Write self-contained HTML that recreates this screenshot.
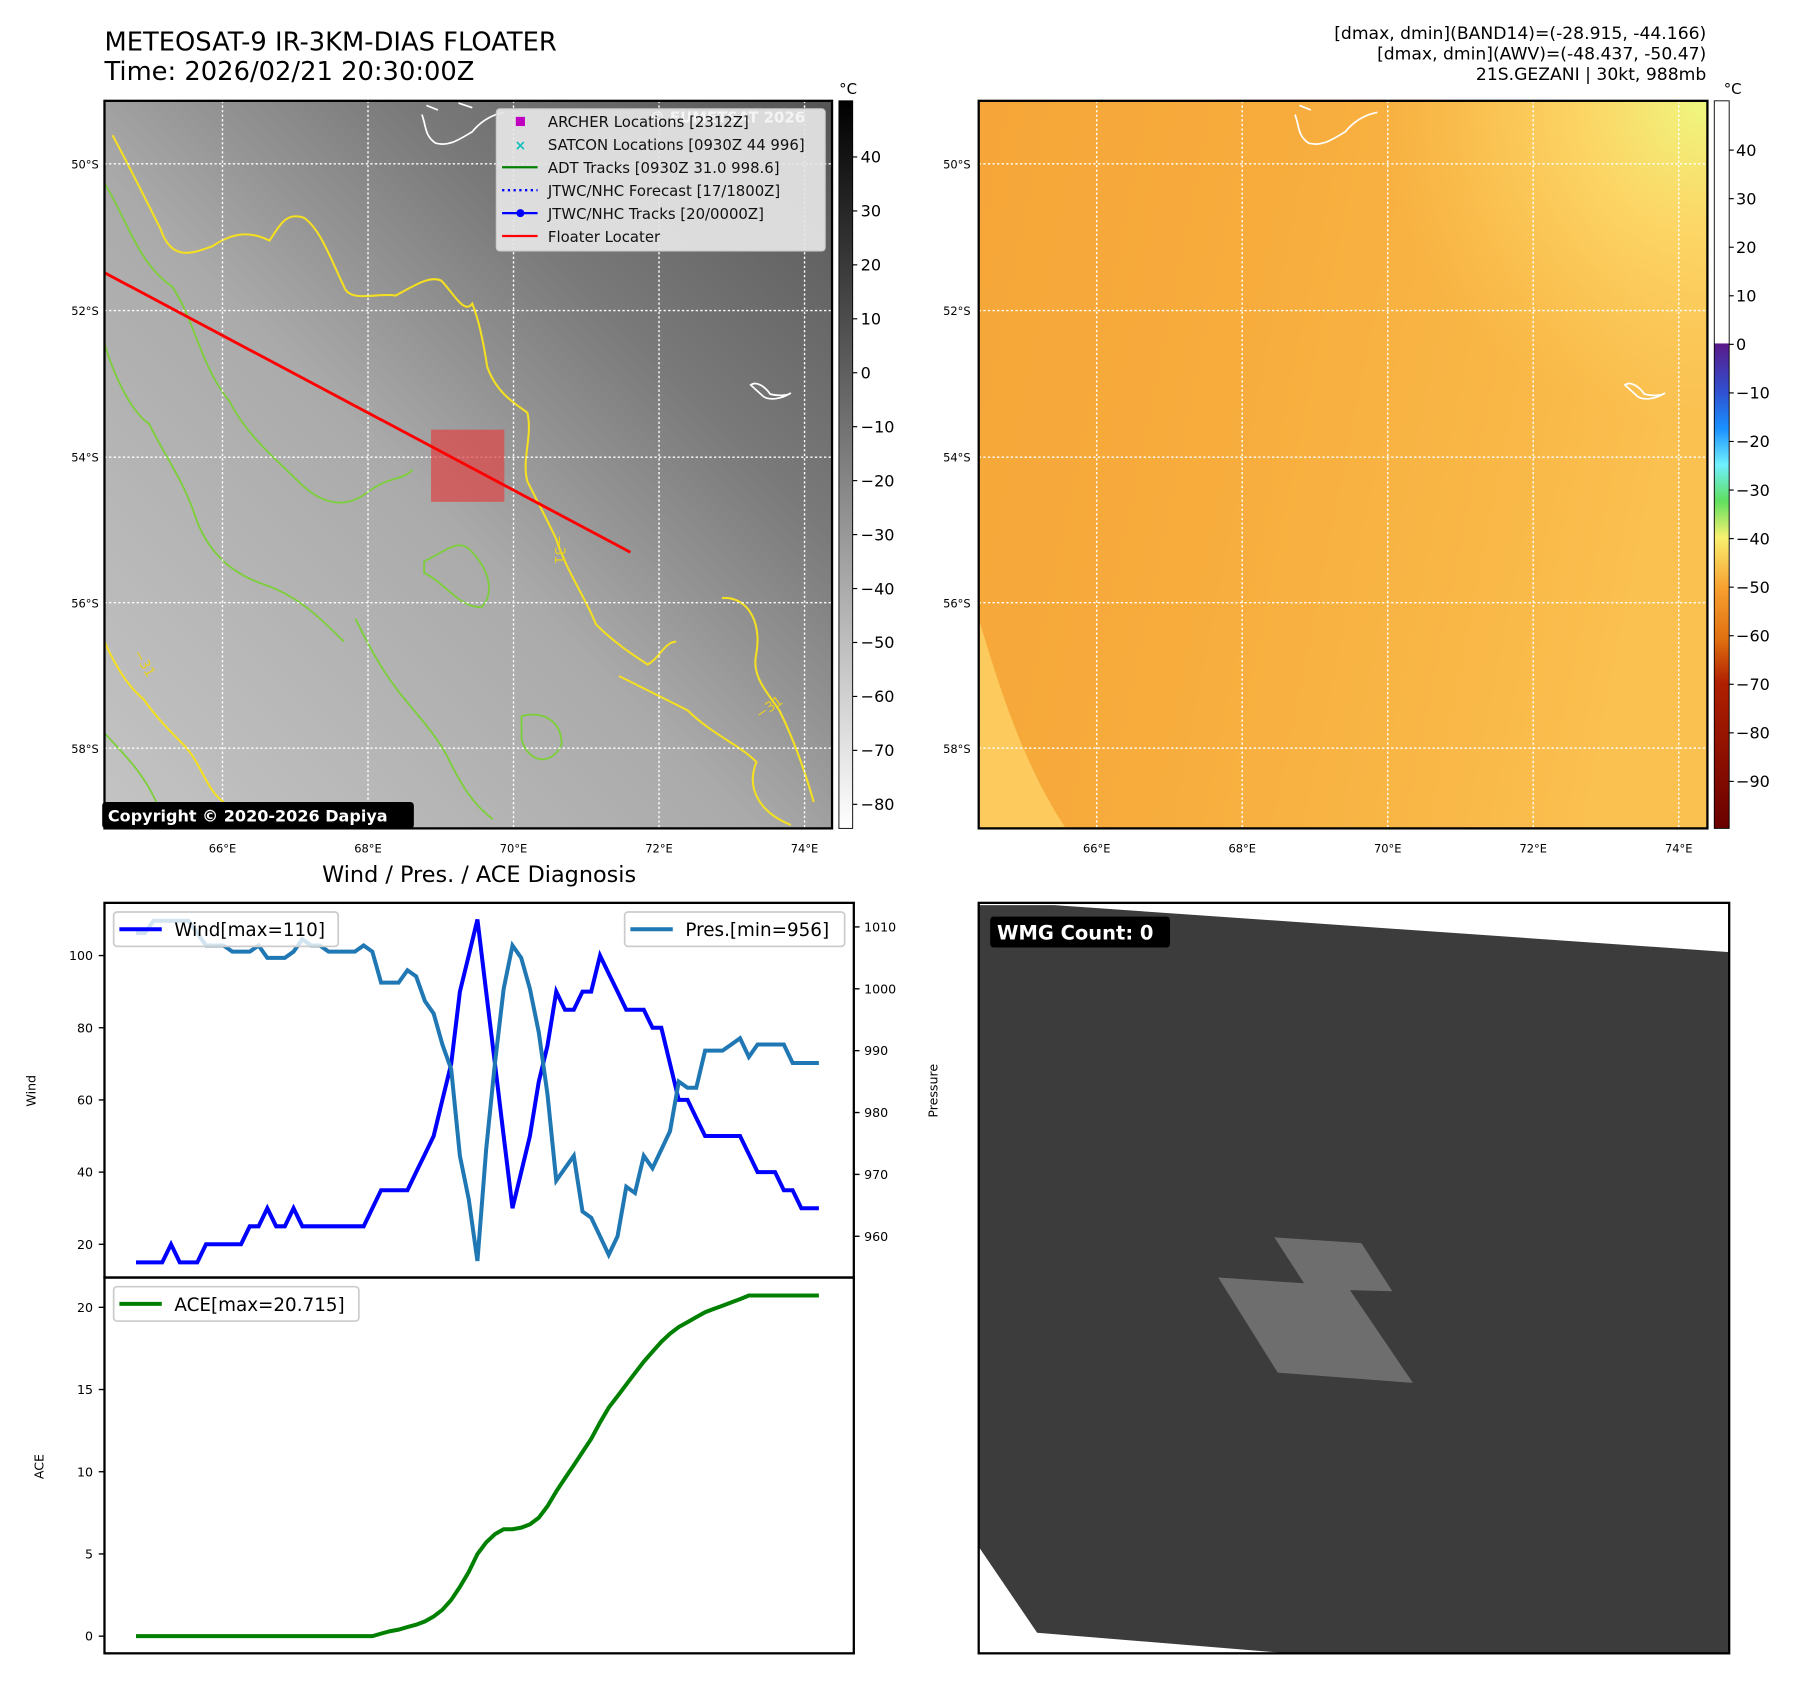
<!DOCTYPE html>
<html><head><meta charset="utf-8"><style>
html,body{margin:0;padding:0;background:#fff;}
svg{display:block;font-family:"DejaVu Sans","Liberation Sans",sans-serif;}
</style></head><body>
<svg id="fig" width="1797" height="1690" viewBox="0 0 1568 1475" xmlns="http://www.w3.org/2000/svg">
<defs>
<linearGradient id="irbg" x1="0" y1="1" x2="1" y2="0">
<stop offset="0" stop-color="#c4c4c4"/><stop offset="0.45" stop-color="#aaaaaa"/><stop offset="0.7" stop-color="#7a7a7a"/><stop offset="1" stop-color="#555555"/>
</linearGradient>
<linearGradient id="awvbg" x1="0" y1="0" x2="1" y2="0.2">
<stop offset="0" stop-color="#f6a638"/><stop offset="0.4" stop-color="#f7ac3c"/><stop offset="0.8" stop-color="#f9b847"/><stop offset="1" stop-color="#fac050"/>
</linearGradient>
<radialGradient id="awvtr" cx="1" cy="0" r="0.45">
<stop offset="0" stop-color="#eef880" stop-opacity="1"/><stop offset="0.4" stop-color="#fde070" stop-opacity="0.7"/><stop offset="1" stop-color="#fcd060" stop-opacity="0"/>
</radialGradient>
<linearGradient id="graycb" x1="0" y1="0" x2="0" y2="1">
<stop offset="0" stop-color="#000"/><stop offset="1" stop-color="#fff"/>
</linearGradient>
<linearGradient id="colcb" x1="0" y1="0" x2="0" y2="1">
<stop offset="0" stop-color="#fff"/><stop offset="0.333" stop-color="#fff"/>
<stop offset="0.334" stop-color="#5a1a8a"/><stop offset="0.40" stop-color="#3050d0"/><stop offset="0.45" stop-color="#1a90ff"/>
<stop offset="0.50" stop-color="#70f0ff"/><stop offset="0.55" stop-color="#60e060"/><stop offset="0.60" stop-color="#f8f070"/>
<stop offset="0.67" stop-color="#f8a030"/><stop offset="0.74" stop-color="#e07010"/><stop offset="0.80" stop-color="#b02000"/><stop offset="1" stop-color="#6a0000"/>
</linearGradient>
</defs>

<text x="91" y="44" font-size="22.5">METEOSAT-9 IR-3KM-DIAS FLOATER</text>
<text x="91" y="70" font-size="22.5">Time: 2026/02/21 20:30:00Z</text>
<text x="1489" y="34" font-size="15" text-anchor="end">[dmax, dmin](BAND14)=(-28.915, -44.166)</text>
<text x="1489" y="52" font-size="15" text-anchor="end">[dmax, dmin](AWV)=(-48.437, -50.47)</text>
<text x="1489" y="70" font-size="15" text-anchor="end">21S.GEZANI | 30kt, 988mb</text>

<g>
<rect x="91" y="88" width="635" height="635" fill="url(#irbg)"/>
<g fill="none" stroke="#f4e020" stroke-width="1.8">
<path d="M98 118 C110 140 125 170 140 200 C150 230 170 220 185 215 C200 205 215 200 235 210 C245 195 250 185 265 190 C280 200 290 230 300 250 C305 265 330 255 345 258 C360 250 375 240 385 245 C395 255 405 275 412 265 C418 280 422 300 425 320 C432 340 445 350 460 360 C465 380 455 400 460 420 C470 440 478 455 485 470 C495 500 510 520 520 545 C535 560 550 570 565 580 C575 575 580 560 590 560"/>
<path d="M91 560 C100 580 112 600 125 610 C135 625 150 640 160 650 C175 665 180 690 195 700"/>
<path d="M630 522 C650 520 665 540 660 570 C655 590 670 605 680 620 C690 640 700 665 710 700"/>
<path d="M540 590 C560 600 580 610 600 620 C620 640 645 650 660 665 C650 690 665 710 690 720"/>
</g>
<g fill="none" stroke="#7ccf3a" stroke-width="1.6">
<path d="M91 160 C110 190 120 230 150 250 C170 280 175 320 200 350 C215 380 240 400 260 420 C280 440 300 445 320 430 C340 415 350 420 360 410"/>
<path d="M91 300 C100 330 115 360 130 370 C145 400 160 420 170 450 C180 480 200 500 230 510 C260 520 280 540 300 560"/>
<path d="M370 490 C390 480 400 470 410 480 C430 500 430 520 420 530 C400 530 390 510 370 500 Z"/>
<path d="M310 540 C320 560 330 580 345 600 C360 620 380 640 390 660 C400 680 410 700 430 715"/>
<path d="M455 625 C475 620 490 630 490 650 C480 670 460 665 455 645 Z"/>
<path d="M91 640 C110 660 130 680 140 710"/>
</g>
<g stroke="#fff" stroke-width="1.2" stroke-dasharray="2,2">
<line x1="194" y1="88" x2="194" y2="723"/><line x1="321" y1="88" x2="321" y2="723"/><line x1="448" y1="88" x2="448" y2="723"/><line x1="575" y1="88" x2="575" y2="723"/><line x1="702" y1="88" x2="702" y2="723"/>
<line x1="91" y1="143" x2="726" y2="143"/><line x1="91" y1="271" x2="726" y2="271"/><line x1="91" y1="399" x2="726" y2="399"/><line x1="91" y1="526" x2="726" y2="526"/><line x1="91" y1="653" x2="726" y2="653"/>
</g>
<path d="M368 100 C372 110 370 118 380 125 C392 128 400 122 412 115 C420 105 430 100 440 98 M372 92 L382 96 M400 90 L412 94" fill="none" stroke="#fff" stroke-width="1.5"/>
<path d="M655 336 C660 332 668 338 672 344 C680 346 688 345 690 343 C682 348 672 350 666 346 Z" fill="none" stroke="#fff" stroke-width="1.5"/>
<text x="484" y="467" font-size="12" fill="#e8d020" transform="rotate(90 484 467)">−31</text>
<text x="663" y="628" font-size="12" fill="#e8d020" transform="rotate(-35 663 628)">−31</text>
<text x="116" y="570" font-size="12" fill="#e8d020" transform="rotate(60 116 570)">−31</text>
<rect x="376" y="375" width="64" height="63" fill="#dc4646" fill-opacity="0.72"/>
<line x1="91" y1="238" x2="550" y2="482" stroke="#f00" stroke-width="2.5"/>
<g>
<rect x="433" y="95" width="287" height="124" rx="3" fill="#e6e6e6" fill-opacity="0.92" stroke="#ccc"/>
<text x="567" y="107" font-size="13" fill="#fff" fill-opacity="0.7" font-weight="bold">© EUMETSAT 2026</text>
<rect x="450" y="102" width="8" height="8" fill="#c000c0"/>
<text x="454" y="131" font-size="12" fill="#10c0c0" text-anchor="middle" font-weight="bold">×</text>
<line x1="438" y1="146" x2="469" y2="146" stroke="#008000" stroke-width="2"/>
<line x1="438" y1="166" x2="469" y2="166" stroke="#0000ff" stroke-width="2" stroke-dasharray="2,3"/>
<line x1="438" y1="186" x2="469" y2="186" stroke="#0000ff" stroke-width="2"/><circle cx="454" cy="186" r="3.5" fill="#0000ff"/>
<line x1="438" y1="206" x2="469" y2="206" stroke="#f00" stroke-width="2"/>
<g font-size="13" fill="#111">
<text x="478" y="111">ARCHER Locations [2312Z]</text>
<text x="478" y="131">SATCON Locations [0930Z 44 996]</text>
<text x="478" y="151">ADT Tracks [0930Z 31.0 998.6]</text>
<text x="478" y="171">JTWC/NHC Forecast [17/1800Z]</text>
<text x="478" y="191">JTWC/NHC Tracks [20/0000Z]</text>
<text x="478" y="211">Floater Locater</text>
</g></g>
<rect x="89" y="700" width="272" height="23" rx="3" fill="#000"/>
<text x="94" y="717" font-size="14" font-weight="bold" fill="#fff">Copyright © 2020-2026 Dapiya</text>
<rect x="91" y="88" width="635" height="635" fill="none" stroke="#000" stroke-width="2"/>
</g>
<g font-size="10" text-anchor="end">
<text x="86" y="147">50°S</text><text x="86" y="275">52°S</text><text x="86" y="403">54°S</text><text x="86" y="530">56°S</text><text x="86" y="657">58°S</text>
</g>
<g font-size="10" text-anchor="middle">
<text x="194" y="744">66°E</text><text x="321" y="744">68°E</text><text x="448" y="744">70°E</text><text x="575" y="744">72°E</text><text x="702" y="744">74°E</text>
</g>
<g>
<rect x="732" y="88" width="12" height="635" fill="url(#graycb)" stroke="#000" stroke-width="0.8"/>
<text x="740" y="82" font-size="13" text-anchor="middle">°C</text>
<g font-size="14" id="cb1"></g>
</g>

<g>
<rect x="854" y="88" width="636" height="635" fill="url(#awvbg)"/>
<rect x="854" y="88" width="636" height="635" fill="url(#awvtr)"/>
<path d="M854 540 L854 723 L930 723 C895 670 875 610 854 540 Z" fill="#fcd266" opacity="0.8"/>
<g stroke="#fff" stroke-width="1.2" stroke-dasharray="2,2">
<line x1="957" y1="88" x2="957" y2="723"/><line x1="1084" y1="88" x2="1084" y2="723"/><line x1="1211" y1="88" x2="1211" y2="723"/><line x1="1338" y1="88" x2="1338" y2="723"/><line x1="1465" y1="88" x2="1465" y2="723"/>
<line x1="854" y1="143" x2="1490" y2="143"/><line x1="854" y1="271" x2="1490" y2="271"/><line x1="854" y1="399" x2="1490" y2="399"/><line x1="854" y1="526" x2="1490" y2="526"/><line x1="854" y1="653" x2="1490" y2="653"/>
</g>
<path d="M1130 100 C1134 110 1132 118 1142 125 C1154 128 1162 122 1174 115 C1182 105 1192 100 1202 98 M1134 92 L1144 96" fill="none" stroke="#fff" stroke-width="1.5"/>
<path d="M1418 336 C1423 332 1431 338 1435 344 C1443 346 1451 345 1453 343 C1445 348 1435 350 1429 346 Z" fill="none" stroke="#fff" stroke-width="1.5"/>
<rect x="854" y="88" width="636" height="635" fill="none" stroke="#000" stroke-width="2"/>
</g>
<g font-size="10" text-anchor="end">
<text x="847" y="147">50°S</text><text x="847" y="275">52°S</text><text x="847" y="403">54°S</text><text x="847" y="530">56°S</text><text x="847" y="657">58°S</text>
</g>
<g font-size="10" text-anchor="middle">
<text x="957" y="744">66°E</text><text x="1084" y="744">68°E</text><text x="1211" y="744">70°E</text><text x="1338" y="744">72°E</text><text x="1465" y="744">74°E</text>
</g>
<g>
<rect x="1496" y="88" width="13" height="635" fill="url(#colcb)" stroke="#000" stroke-width="0.8"/>
<text x="1512" y="82" font-size="13" text-anchor="middle">°C</text>
<g font-size="14" id="cb2"></g>
</g>

<text x="418" y="770" font-size="19.5" text-anchor="middle">Wind / Pres. / ACE Diagnosis</text>
<g id="diag"></g>

<g>
<rect x="854" y="788" width="655" height="655" fill="#fff"/>
<polygon points="854,790 920,790 1509,831 1509,1443 1125,1443 905,1425 854,1350" fill="#3c3c3c"/>
<polygon points="1112,1080 1188,1085 1215,1127 1178,1126 1233,1207 1115,1198 1063,1115 1138,1120" fill="#6e6e6e"/>
<rect x="854" y="788" width="655" height="655" fill="none" stroke="#000" stroke-width="2"/>
<rect x="864" y="800" width="157" height="27" rx="3" fill="#000"/>
<text x="870" y="820" font-size="17" font-weight="bold" fill="#fff">WMG Count: 0</text>
</g>
</svg>
<script>
const NS="http://www.w3.org/2000/svg";
const windValues=[15,15,15,15,20,15,15,15,20,20,20,20,20,25,25,30,25,25,30,25,25,25,25,25,25,25,25,30,35,35,35,35,40,45,50,60,70,90,100,110,90,70,50,30,40,50,65,75,90,85,85,90,90,100,95,90,85,85,85,80,80,70,60,60,55,50,50,50,50,50,45,40,40,40,35,35,30,30,30];
const presValues=[1009,1009,1011,1011,1011,1011,1011,1009,1007,1007,1007,1006,1006,1006,1007,1005,1005,1005,1006,1008,1007,1007,1006,1006,1006,1006,1007,1006,1001,1001,1001,1003,1002,998,996,991,987,973,966,956,974,988,1000,1007,1005,1000,993,983,969,971,973,964,963,960,957,960,968,967,973,971,974,977,985,984,984,990,990,990,991,992,989,991,991,991,991,988,988,988,988];
const aceValues=[0,0,0,0,0,0,0,0,0,0,0,0,0,0,0,0,0,0,0,0,0,0,0,0,0,0,0,0,0.15,0.3,0.4,0.55,0.7,0.9,1.2,1.6,2.2,3.0,3.9,5.0,5.7,6.2,6.5,6.5,6.6,6.8,7.2,7.9,8.8,9.6,10.4,11.2,12.0,13.0,13.9,14.6,15.3,16.0,16.7,17.3,17.9,18.4,18.8,19.1,19.4,19.7,19.9,20.1,20.3,20.5,20.715,20.715,20.715,20.715,20.715,20.715,20.715,20.715,20.715];
const windTicks=[20,40,60,80,100];
const presTicks=[960,970,980,990,1000,1010];
const aceTicks=[0,5,10,15,20];
const irCbTicks=[40,30,20,10,0,-10,-20,-30,-40,-50,-60,-70,-80];
const awvCbTicks=[40,30,20,10,0,-10,-20,-30,-40,-50,-60,-70,-80,-90];

const xS=i=>118.5+i*(714.5-118.5)/(windValues.length-1);
const yW=v=>1086-(v-20)*63/20;
const yP=v=>1079-(v-960)*270/50;
const yA=v=>1428-v*(1428-1141)/20;
const yCb1=v=>137+(40-v)*(702-137)/120;
const yCb2=v=>131+(40-v)*(682-131)/130;

function el(tag,attrs,parent,txt){const e=document.createElementNS(NS,tag);for(const k in attrs)e.setAttribute(k,attrs[k]);if(txt!==undefined)e.textContent=txt;parent.appendChild(e);return e;}

const cb1=document.getElementById('cb1');
irCbTicks.forEach(t=>{const y=yCb1(t);
 el('line',{x1:744,y1:y,x2:748,y2:y,stroke:'#000'},cb1);
 const tx=el('text',{x:751,y:y+5},cb1,t<0?'−'+(-t):String(t));
 
 
});
const cb2=document.getElementById('cb2');
awvCbTicks.forEach(t=>{const y=yCb2(t);
 el('line',{x1:1509,y1:y,x2:1513,y2:y,stroke:'#000'},cb2);
 const tx=el('text',{x:1515,y:y+5},cb2,t<0?'−'+(-t):String(t));
 
 
});

const g=document.getElementById('diag');
el('rect',{x:91,y:788,width:654,height:655,fill:'#fff'},g);
windTicks.forEach(t=>{const y=yW(t);el('line',{x1:86,y1:y,x2:91,y2:y,stroke:'#000','stroke-width':1.2},g);
 const tx=el('text',{x:81,y:y+4,'font-size':11,'text-anchor':'end'},g,String(t));
 
 });
presTicks.forEach(t=>{const y=yP(t);el('line',{x1:745,y1:y,x2:750,y2:y,stroke:'#000','stroke-width':1.2},g);
 const tx=el('text',{x:754,y:y+4,'font-size':11},g,String(t));
 
 });
aceTicks.forEach(t=>{const y=yA(t);el('line',{x1:86,y1:y,x2:91,y2:y,stroke:'#000','stroke-width':1.2},g);
 const tx=el('text',{x:81,y:y+4,'font-size':11,'text-anchor':'end'},g,String(t));
 
 });
let t1=el('text',{x:31,y:952,'font-size':11,'text-anchor':'middle',transform:'rotate(-90 31 952)'},g,'Wind');


let t2=el('text',{x:818,y:952,'font-size':11,'text-anchor':'middle',transform:'rotate(-90 818 952)'},g,'Pressure');


let t3=el('text',{x:38,y:1280,'font-size':11,'text-anchor':'middle',transform:'rotate(-90 38 1280)'},g,'ACE');



const pts=(arr,f)=>arr.map((v,i)=>xS(i).toFixed(1)+','+f(v).toFixed(1)).join(' ');
const wl=el('polyline',{points:pts(windValues,yW),fill:'none',stroke:'#0000ff','stroke-width':3.5,'stroke-linejoin':'miter'},g);


const pl=el('polyline',{points:pts(presValues,yP),fill:'none',stroke:'#1f77b4','stroke-width':3.5},g);


const al=el('polyline',{points:pts(aceValues,yA),fill:'none',stroke:'#008000','stroke-width':3.5},g);



const l1=el('g',{},g);


el('rect',{x:99,y:796,width:196,height:30,rx:3,fill:'#fff','fill-opacity':0.8,stroke:'#ccc','stroke-width':1.5},l1);
el('line',{x1:104,y1:811,x2:141,y2:811,stroke:'#0000ff','stroke-width':3.5},l1);
el('text',{x:152,y:817,'font-size':16},l1,'Wind[max=110]');
const l2=el('g',{},g);


el('rect',{x:545,y:796,width:192,height:30,rx:3,fill:'#fff','fill-opacity':0.8,stroke:'#ccc','stroke-width':1.5},l2);
el('line',{x1:550,y1:811,x2:587,y2:811,stroke:'#1f77b4','stroke-width':3.5},l2);
el('text',{x:598,y:817,'font-size':16},l2,'Pres.[min=956]');
const l3=el('g',{},g);


el('rect',{x:99,y:1123,width:214,height:30,rx:3,fill:'#fff','fill-opacity':0.8,stroke:'#ccc','stroke-width':1.5},l3);
el('line',{x1:104,y1:1138,x2:141,y2:1138,stroke:'#008000','stroke-width':3.5},l3);
el('text',{x:152,y:1144,'font-size':16},l3,'ACE[max=20.715]');
el('rect',{x:91,y:788,width:654,height:327,fill:'none',stroke:'#000','stroke-width':2},g);
el('rect',{x:91,y:1115,width:654,height:328,fill:'none',stroke:'#000','stroke-width':2},g);
</script>
</body></html>
